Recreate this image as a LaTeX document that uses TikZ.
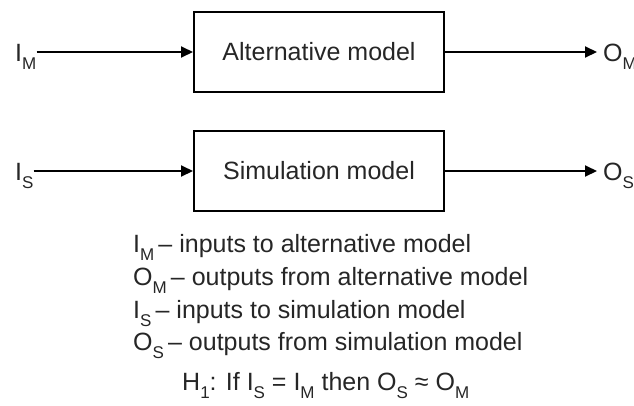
\documentclass[tikz,border=0pt]{standalone}
\usepackage{fontspec}
\setmainfont{Liberation Sans}
\usetikzlibrary{arrows.meta}

% lowered, smaller subscript in the running text font
\newcommand\lowsub[1]{\raisebox{-0.32em}{\fontsize{17}{17}\selectfont #1}}

\begin{document}
\begin{tikzpicture}[x=1pt,y=-1pt,
  every node/.style={font=\fontsize{25}{30}\selectfont, text=black!85},
  modelbox/.style={draw=black, line width=2pt, minimum width=250pt, minimum height=80pt, inner sep=0pt},
  tag/.style={inner sep=0pt, anchor=base west},
  flow/.style={draw=black, line width=2pt, -{Triangle[length=12pt,width=11pt]}},
  legendline/.style={inner sep=0pt, anchor=base west}
]
\useasboundingbox (0,0) rectangle (634,405);

% the two models
\node[modelbox] (alt) at (319,52) {Alternative model};
\node[modelbox] (sim) at (319,171) {Simulation model};

% inputs and outputs
\node[tag] (iM) at (15,61) {I\lowsub{M}};
\node[tag] (oM) at (603,61) {O\lowsub{M}};
\node[tag] (iS) at (15,180) {I\lowsub{S}};
\node[tag] (oS) at (603,180) {O\lowsub{S}};

\draw[flow] (iM.east |- alt.west) -- (alt.west);
\draw[flow, shorten >=6pt] (alt.east) -- (oM.west |- alt.east);
\draw[flow] (iS.east |- sim.west) -- (sim.west);
\draw[flow, shorten >=6pt] (sim.east) -- (oS.west |- sim.east);

% key to the symbols
\node[legendline] (k1) at (133,252) {I\lowsub{M}\,– inputs to alternative model};
\node[legendline] (k2) at (133,285) {O\lowsub{M}\,– outputs from alternative model};
\node[legendline] (k3) at (133,318) {I\lowsub{S}\,– inputs to simulation model};
\node[legendline] (k4) at (133,350) {O\lowsub{S}\,– outputs from simulation model};

% hypothesis
\node[legendline] (hyp) at (182,390) {H\lowsub{1}: If I\lowsub{S} = I\lowsub{M} then O\lowsub{S} ≈ O\lowsub{M}};
\end{tikzpicture}
\end{document}
